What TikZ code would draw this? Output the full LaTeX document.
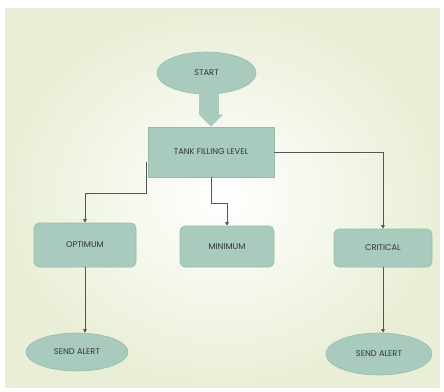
\documentclass[tikz,border=0pt]{standalone}
\usepackage{fontspec}
\setmainfont{Poppins}
\usetikzlibrary{shapes.geometric,arrows.meta,calc}
\definecolor{sage}{HTML}{A9CBBD}
\definecolor{sageedge}{HTML}{97BBAA}
\definecolor{bgouter}{HTML}{E9EFD6}
\definecolor{txt}{HTML}{333333}
\definecolor{ln}{HTML}{555555}
\tikzset{
  box/.style={draw=sageedge, fill=sage, line width=0.6pt, text=txt, font=\fontsize{8.3}{9}\selectfont, inner sep=0pt},
  oval/.style={box, ellipse},
  rbox/.style={box, rectangle, rounded corners=5pt},
  conn/.style={draw=ln, line width=0.6pt, -{Triangle[length=3.5pt,width=3.5pt]}},
}
\begin{document}
\begin{tikzpicture}[x=1pt,y=-1pt]
\useasboundingbox (0,0) rectangle (444,391);
\fill[white] (0,0) rectangle (444,391);
\shade[inner color=white, outer color=bgouter] (5,8) rectangle (440,387);
% nodes
\node[oval, minimum width=99pt, minimum height=42pt] (start) at (206.5,73) {START};
\node[box, rectangle, minimum width=126pt, minimum height=50pt] (tank) at (211,152) {TANK FILLING LEVEL};
\node[rbox, minimum width=102pt, minimum height=44pt] (opt) at (85,245) {OPTIMUM};
\node[rbox, minimum width=94pt, minimum height=41pt] (min) at (227,246.5) {MINIMUM};
\node[rbox, minimum width=98pt, minimum height=38pt] (crit) at (383,248) {CRITICAL};
\node[oval, minimum width=102pt, minimum height=38pt] (alert1) at (77,352) {SEND ALERT};
\node[oval, minimum width=106pt, minimum height=42pt] (alert2) at (379,354) {SEND ALERT};
% thick arrow
\fill[sage] ($(start.south)+(-7.5,-1)$) rectangle ($(tank.north)+(7.5,-12)$);
\fill[sage] ($(tank.north)+(-12,-12)$) -- ($(tank.north)+(12,-12)$) -- (tank.north) -- cycle;
% connectors
\coordinate (l1) at ($(tank.west)+(-1,10)$);
\draw[conn] (l1) -- ++(0,31) -| (opt.north);
\draw[conn] (tank.south) -- ++(0,26) -| (min.north);
\draw[conn] (tank.east) -| (crit.north);
\draw[conn] (opt.south) -- (opt.south |- alert1.north);
\draw[conn] (crit.south) -- (crit.south |- alert2.north);
\end{tikzpicture}
\end{document}
